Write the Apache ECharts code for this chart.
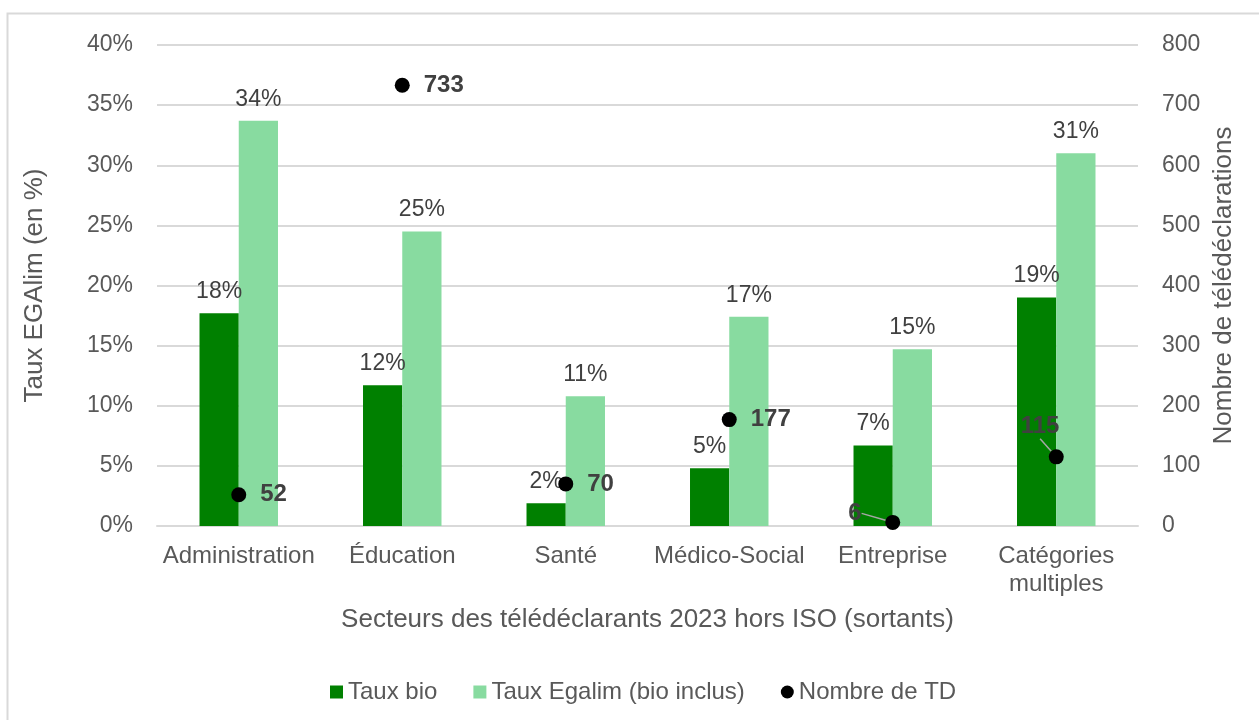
<!DOCTYPE html>
<html><head><meta charset="utf-8">
<script src="https://cdn.jsdelivr.net/npm/echarts@6/dist/echarts.min.js"></script>
<style>html,body{margin:0;padding:0;background:#fff}#c{width:1259px;height:720px}</style>
</head><body><div id="c"></div>
<script>
const categories = ['Administration', 'Éducation', 'Santé', 'Médico-Social', 'Entreprise', 'Catégories\nmultiples'];
const tauxBio = [17.7, 11.7, 1.9, 4.8, 6.7, 19.0];
const tauxEgalim = [33.7, 24.5, 10.8, 17.4, 14.7, 31.0];
const nombreTD = [52, 733, 70, 177, 6, 115];
const leftTicks = [0, 5, 10, 15, 20, 25, 30, 35, 40];
const rightTicks = [0, 100, 200, 300, 400, 500, 600, 700, 800];

const FONT = '"Liberation Sans", Arial, sans-serif';
const leaderIdx = [4, 5];
const tdData = nombreTD.map((v, i) => ({
  value: v,
  labelLine: {show: leaderIdx.indexOf(i) >= 0}
}));

const chart = echarts.init(document.getElementById('c'), null, {renderer: 'canvas'});
chart.setOption({
  animation: false,
  textStyle: {fontFamily: FONT},
  graphic: [{type: 'rect', shape: {x: 7.5, y: 13.5, width: 1400, height: 900},
    style: {fill: 'none', stroke: '#d9d9d9', lineWidth: 2}, silent: true}],
  grid: {left: 157, right: 121, top: 45, bottom: 194},
  legend: {
    top: 675, left: 325, itemGap: 36, itemWidth: 13, itemHeight: 13,
    textStyle: {fontFamily: FONT, fontSize: 24, color: '#595959'},
    data: [{name: 'Taux bio', icon: 'rect'}, {name: 'Taux Egalim (bio inclus)', icon: 'rect'}, {name: 'Nombre de TD', icon: 'circle'}]
  },
  xAxis: {
    type: 'category', data: categories,
    name: 'Secteurs des télédéclarants 2023 hors ISO (sortants)',
    nameLocation: 'middle', nameGap: 81,
    nameTextStyle: {fontFamily: FONT, fontSize: 26, color: '#595959'},
    axisLine: {lineStyle: {color: '#d9d9d9', width: 2}},
    axisTick: {show: false},
    axisLabel: {interval: 0, fontFamily: FONT, fontSize: 24, color: '#595959', margin: 16, lineHeight: 28}
  },
  yAxis: [{
    type: 'value', min: 0, max: 40, interval: 5,
    name: 'Taux EGAlim (en %)', nameLocation: 'middle', nameGap: 109,
    nameTextStyle: {fontFamily: FONT, fontSize: 26, color: '#595959'},
    axisLabel: {fontFamily: FONT, fontSize: 23, color: '#595959', margin: 24, formatter: v => v + '%'},
    splitLine: {lineStyle: {color: '#d9d9d9', width: 2}},
    axisLine: {show: false}, axisTick: {show: false}
  }, {
    type: 'value', min: 0, max: 800, interval: 100,
    name: 'Nombre de télédéclarations', nameLocation: 'middle', nameGap: 71,
    nameTextStyle: {fontFamily: FONT, fontSize: 26, color: '#595959'},
    axisLabel: {fontFamily: FONT, fontSize: 23, color: '#595959', margin: 24},
    splitLine: {show: false}, axisLine: {show: false}, axisTick: {show: false}
  }],
  series: [{
    name: 'Taux bio', type: 'bar', data: tauxBio, barGap: '0%', barCategoryGap: '52%',
    itemStyle: {color: '#008000'},
    label: {show: true, position: 'top', distance: 10, fontFamily: FONT, fontSize: 23, color: '#404040',
      formatter: p => Math.round(p.value) + '%'}
  }, {
    name: 'Taux Egalim (bio inclus)', type: 'bar', data: tauxEgalim,
    itemStyle: {color: '#88dba0'},
    label: {show: true, position: 'top', distance: 10, fontFamily: FONT, fontSize: 23, color: '#404040',
      formatter: p => Math.round(p.value) + '%'}
  }, {
    name: 'Nombre de TD', type: 'scatter', yAxisIndex: 1, data: tdData, symbolSize: 15,
    itemStyle: {color: '#000', opacity: 1}, z: 5,
    label: {show: true, position: 'right', distance: 14, fontFamily: FONT, fontSize: 24, fontWeight: 'bold', color: '#404040'},
    labelLine: {lineStyle: {color: '#a6a6a6', width: 1.5}},
    labelLayout: function (p) {
      if (p.dataIndex === 4) return {dx: -66, dy: -9};
      if (p.dataIndex === 5) return {dx: -57, dy: -30};
      return {};
    }
  }]
});
</script></body></html>
